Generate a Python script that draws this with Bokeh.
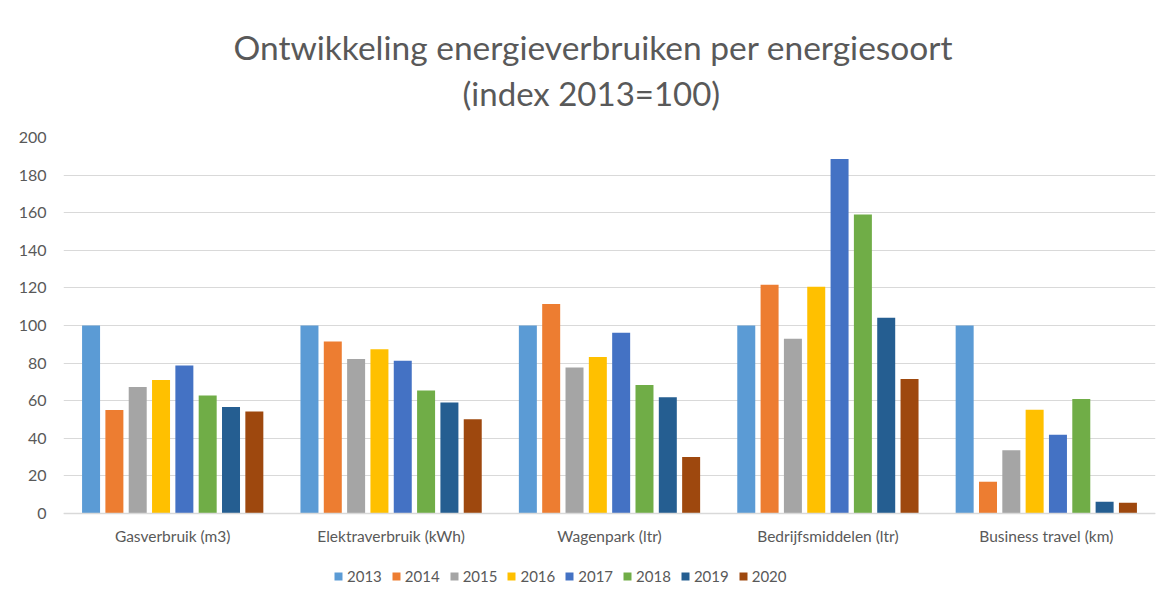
from bokeh.plotting import figure
from bokeh.models import (ColumnDataSource, FactorRange, Range1d, Legend, LegendItem,
                          Title, FixedTicker)
from bokeh.transform import dodge
from bokeh.embed import file_html
from bokeh.resources import INLINE

categories = ["Gasverbruik (m3)", "Elektraverbruik (kWh)", "Wagenpark (ltr)",
              "Bedrijfsmiddelen (ltr)", "Business travel (km)"]
years = ["2013", "2014", "2015", "2016", "2017", "2018", "2019", "2020"]

v2013 = [100, 100, 100, 100, 100]
v2014 = [55.1, 91.5, 111.5, 121.7, 16.9]
v2015 = [67.3, 82.2, 77.6, 92.9, 33.7]
v2016 = [71.0, 87.4, 83.3, 120.6, 55.2]
v2017 = [78.7, 81.3, 96.1, 188.5, 41.9]
v2018 = [62.7, 65.4, 68.4, 159.0, 60.9]
v2019 = [56.7, 59.1, 61.8, 104.1, 6.2]
v2020 = [54.2, 50.1, 30.0, 71.6, 5.7]

series = [v2013, v2014, v2015, v2016, v2017, v2018, v2019, v2020]
colors = ["#5B9BD5", "#ED7D31", "#A5A5A5", "#FFC000", "#4472C4", "#70AD47", "#255E91", "#9E480E"]
y_ticks = [0, 20, 40, 60, 80, 100, 120, 140, 160, 180, 200]

title_line1 = "Ontwikkeling energieverbruiken per energiesoort"
title_line2 = "(index 2013=100)"

data = {"cat": categories}
for y, s in zip(years, series):
    data["y" + y] = s
source = ColumnDataSource(data)

FONT = "Lato"
TXT = "#595959"

# frame: 200 units over 376 px; extra room below zero holds axis labels + legend
FRAME_H = 459
y_start = 200 - FRAME_H * 200 / 376

p = figure(frame_width=1092, frame_height=FRAME_H, x_range=FactorRange(factors=categories),
           y_range=Range1d(y_start, 200), output_backend="svg", toolbar_location=None,
           title=None, min_border_left=63, min_border_right=6,
           min_border_top=137, min_border_bottom=2)
p.outline_line_color = None
p.background_fill_color = "white"
p.border_fill_color = "white"

pitch = 0.1068
bw = 0.0824
items = []
for i, (y, c) in enumerate(zip(years, colors)):
    off = (i - 3.5) * pitch
    r = p.vbar(x=dodge("cat", off, range=p.x_range), top="y" + y, width=bw,
               source=source, fill_color=c, line_color=None)
    items.append(LegendItem(label=y, renderers=[r]))

p.xgrid.grid_line_color = None
p.ygrid.grid_line_color = "#D9D9D9"
p.ygrid.grid_line_width = 1

p.yaxis.ticker = FixedTicker(ticks=y_ticks)
p.yaxis.axis_line_color = None
p.yaxis.major_tick_line_color = None
p.yaxis.minor_tick_line_color = None
p.yaxis.major_tick_out = 0
p.yaxis.major_tick_in = 0
p.yaxis.minor_tick_out = 0
p.yaxis.major_label_standoff = 17
p.yaxis.major_label_text_font = FONT
p.yaxis.major_label_text_font_size = "16px"
p.yaxis.major_label_text_color = TXT

p.xaxis.fixed_location = 0
p.xaxis.axis_line_color = "#D9D9D9"
p.xaxis.axis_line_width = 1.5
p.xaxis.major_tick_line_color = None
p.xaxis.minor_tick_line_color = None
p.xaxis.major_tick_out = 0
p.xaxis.major_tick_in = 0
p.xaxis.major_label_standoff = 13
p.xaxis.major_label_text_font = FONT
p.xaxis.major_label_text_font_size = "15.5px"
p.xaxis.major_label_text_color = TXT

legend = Legend(items=items, orientation="horizontal", location=(270, 11),
                border_line_color=None, background_fill_alpha=0,
                label_text_font=FONT, label_text_font_size="15px",
                label_text_color=TXT, glyph_width=10, glyph_height=10,
                label_standoff=4, spacing=9, padding=0, margin=0)
p.add_layout(legend)

spacer = Title(text=" ", align="center", text_font=FONT, text_font_size="1px",
               standoff=20)
sub = Title(text=title_line2, align="left", offset=399, text_font=FONT,
            text_font_size="33px", text_color=TXT, text_font_style="normal", standoff=4)
main = Title(text=title_line1, align="left", offset=170, text_font=FONT,
             text_font_size="33.5px", text_color=TXT, text_font_style="normal", standoff=4)
p.add_layout(spacer, "above")
p.add_layout(sub, "above")
p.add_layout(main, "above")

open("out.html", "w").write(file_html(p, INLINE))
